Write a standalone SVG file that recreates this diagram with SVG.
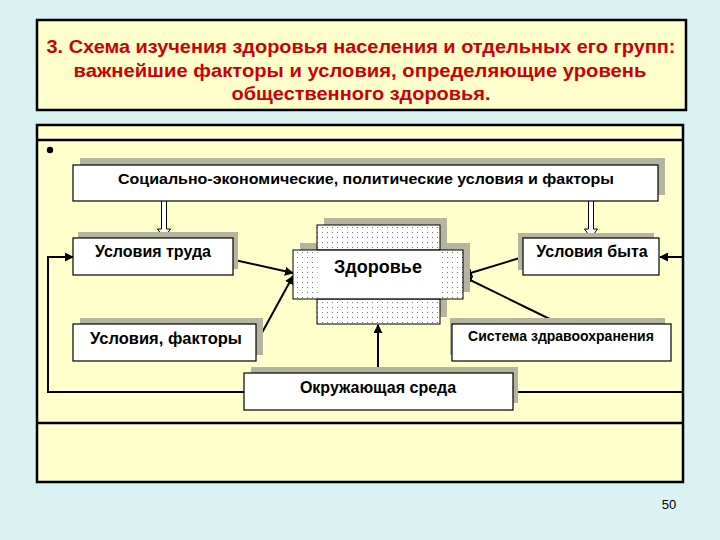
<svg xmlns="http://www.w3.org/2000/svg" width="720" height="540" viewBox="0 0 720 540">
<style>
.frame{fill:#ffffcc;stroke:#000;stroke-width:2.5}
.line{stroke:#000;stroke-width:2.5}
.sh{fill:#b5b49e}
.box{fill:#fff;stroke:#000;stroke-width:1.2}
.t{font-family:"Liberation Sans",Arial,sans-serif;font-weight:bold;fill:#000;text-anchor:middle}
.title{font-family:"Liberation Sans",Arial,sans-serif;font-weight:bold;fill:#cc0000;text-anchor:middle;font-size:19px}
.con{stroke:#000;stroke-width:2;fill:none}
.blk{fill:#fff;stroke:#000;stroke-width:1}
</style>
<defs>
<marker id="ah" viewBox="0 0 10 10" refX="9" refY="5" markerWidth="4.5" markerHeight="4.5" orient="auto" markerUnits="strokeWidth">
<path d="M0,0 L10,5 L0,10 z" fill="#000"/>
</marker>
<pattern id="dots" width="5" height="5" patternUnits="userSpaceOnUse">
<rect width="5" height="5" fill="#fff"/>
<rect x="2" y="2" width="1" height="1" fill="#777"/>
</pattern>
</defs>
<rect width="720" height="540" fill="#dbf2f2"/>
<g id="title">
<rect class="frame" x="37" y="20" width="649" height="90"/>
<text class="title" x="361" y="53" textLength="629" lengthAdjust="spacingAndGlyphs">3. Схема изучения здоровья населения и отдельных его групп:</text>
<text class="title" x="360" y="77" textLength="573" lengthAdjust="spacingAndGlyphs">важнейшие факторы и условия, определяющие уровень</text>
<text class="title" x="361" y="100" textLength="259" lengthAdjust="spacingAndGlyphs">общественного здоровья.</text>
</g>
<g id="panel">
<rect class="frame" x="37" y="125" width="646" height="357"/>
<line class="line" x1="37" y1="140" x2="683" y2="140"/>
<line class="line" x1="37" y1="423" x2="683" y2="423"/>
<circle cx="50" cy="150" r="3.2" fill="#000"/>
</g>
<g id="connectors">
<path class="blk" d="M161.5,200 V229 H157.5 L164,238 L170.5,229 H166.5 V200 Z"/>
<path class="blk" d="M588.5,200 V229 H584.5 L591,238 L597.5,229 H593.5 V200 Z"/>
<line class="con" x1="221" y1="257" x2="293" y2="273" marker-end="url(#ah)"/>
<line class="con" x1="258" y1="340" x2="293" y2="276" marker-end="url(#ah)"/>
<line class="con" x1="523" y1="257" x2="464" y2="275" marker-end="url(#ah)"/>
<line class="con" x1="558" y1="323" x2="464" y2="277" marker-end="url(#ah)"/>
<line class="con" x1="378" y1="373" x2="378" y2="325" marker-end="url(#ah)"/>
<path class="con" d="M244,392 H48 V257 H73" marker-end="url(#ah)"/>
<path class="con" d="M513,392 H683 V257 H660" marker-end="url(#ah)"/>
</g>
<g id="social">
<rect class="sh" x="80" y="158" width="585" height="37"/>
<rect class="box" x="73" y="165" width="585" height="36"/>
<text class="t" x="366" y="184" font-size="15" textLength="496" lengthAdjust="spacingAndGlyphs">Социально-экономические, политические условия и факторы</text>
</g>
<g id="trud">
<rect class="sh" x="78" y="232" width="160" height="37"/>
<rect class="box" x="73" y="238" width="160" height="37"/>
<text class="t" x="153" y="257" font-size="16">Условия труда</text>
</g>
<g id="factory">
<rect class="sh" x="80" y="318" width="183" height="37"/>
<rect class="box" x="73" y="324" width="183" height="37"/>
<text class="t" x="166" y="344" font-size="16.5">Условия, факторы</text>
</g>
<g id="zdorovie">
<rect class="sh" x="324" y="218" width="123" height="99"/>
<rect class="sh" x="300" y="243" width="170" height="49"/>
<rect x="317" y="225" width="123" height="99" fill="url(#dots)" stroke="#000" stroke-width="1"/>
<rect x="293" y="250" width="170" height="49" fill="url(#dots)" stroke="#000" stroke-width="1"/>
<rect x="317.5" y="250.5" width="122" height="48" fill="#fff"/>
<line x1="317" y1="250" x2="440" y2="250" stroke="#000" stroke-width="1"/>
<line x1="317" y1="299" x2="440" y2="299" stroke="#000" stroke-width="1"/>
<text class="t" x="378" y="273" font-size="18">Здоровье</text>
</g>
<g id="byt">
<rect class="sh" x="518" y="233" width="136" height="37"/>
<rect class="box" x="523" y="238" width="136" height="37"/>
<text class="t" x="592" y="257" font-size="16">Условия быта</text>
</g>
<g id="sistema">
<rect class="sh" x="450" y="318" width="215" height="37"/>
<rect class="box" x="452" y="324" width="219" height="37"/>
<text class="t" x="561" y="341" font-size="14">Система здравоохранения</text>
</g>
<g id="sreda">
<rect class="sh" x="251" y="367" width="267" height="36"/>
<rect class="box" x="244" y="373" width="269" height="37"/>
<text class="t" x="378" y="393" font-size="16">Окружающая среда</text>
</g>
<text x="669" y="509" font-family="Liberation Sans,Arial,sans-serif" font-size="13" text-anchor="middle" fill="#000">50</text>
</svg>
